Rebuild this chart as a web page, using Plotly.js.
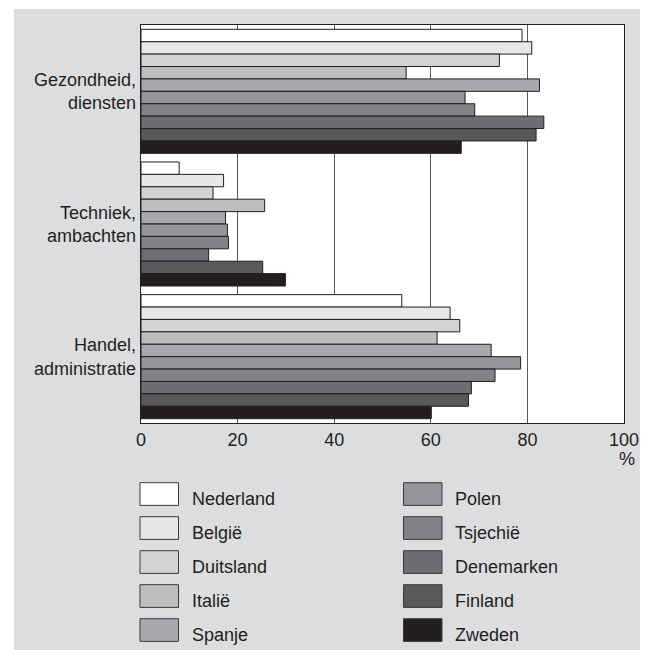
<!DOCTYPE html>
<html>
<head>
<meta charset="utf-8">
<script src="https://cdn.plot.ly/plotly-3.0.1.min.js"></script>
<style>
  html, body { margin: 0; padding: 0; background: #ffffff; }
  #chart { position: absolute; left: 14px; top: 9px; width: 626px; height: 641px; }
</style>
</head>
<body>
<div id="chart"></div>
<script>
// ---- Data ----
const categories = ['Gezondheid,<br>diensten', 'Techniek,<br>ambachten', 'Handel,<br>administratie'];
const countries = ['Nederland', 'België', 'Duitsland', 'Italië', 'Spanje', 'Polen', 'Tsjechië', 'Denemarken', 'Finland', 'Zweden'];
const gezondheid = [78.9, 80.9, 74.2, 54.9, 82.5, 67.1, 69.1, 83.4, 81.8, 66.3];
const techniek   = [7.9, 17.1, 14.9, 25.6, 17.5, 17.9, 18.1, 14.0, 25.2, 29.9];
const handel     = [54.0, 64.0, 66.0, 61.3, 72.5, 78.6, 73.3, 68.4, 67.8, 60.1];
const xTicks = [0, 20, 40, 60, 80, 100];
const unitLabel = '%';

// ---- Styles ----
const colors = ['#ffffff', '#e6e7e8', '#d1d3d4', '#bcbec0', '#a7a9ac', '#939598', '#808285', '#6d6e71', '#58595b', '#231f20'];
const ink = '#231f20';
const font = { family: '"Liberation Sans", Arial, sans-serif', size: 18, color: ink };

const traces = countries.map((c, i) => ({
  type: 'bar',
  orientation: 'h',
  name: c,
  y: categories,
  x: [gezondheid[i], techniek[i], handel[i]],
  marker: { color: colors[i], line: { color: ink, width: 1 } },
  showlegend: false,
  hoverinfo: 'x+name'
}));

// plot area geometry (in px, relative to the div)
const W = 626, H = 641;
const M = { l: 127, r: 16, t: 16, b: 227 };
const pw = W - M.l - M.r, ph = H - M.t - M.b;
// absolute page px -> paper coords
const px2x = ax => (ax - 14 - M.l) / pw;
const px2y = ay => (H - M.b - (ay - 9)) / ph;

const shapes = [];
const annotations = [];
countries.forEach((c, i) => {
  const col = Math.floor(i / 5), row = i % 5;
  const rx0 = col === 0 ? 140 : 403.5;
  const top = 482.7 + row * 34;
  shapes.push({
    type: 'rect', xref: 'paper', yref: 'paper',
    x0: px2x(rx0), x1: px2x(rx0 + 38.5),
    y0: px2y(top + 22.7), y1: px2y(top),
    fillcolor: colors[i], line: { color: '#3a3a3a', width: 1 }
  });
  annotations.push({
    xref: 'paper', yref: 'paper', x: px2x(rx0 + 49.5), y: px2y(top + 16.5),
    xanchor: 'left', yanchor: 'middle', showarrow: false,
    text: c, font: font
  });
});
annotations.push({
  xref: 'paper', yref: 'paper', x: px2x(627), y: px2y(459),
  xanchor: 'center', yanchor: 'middle', showarrow: false,
  text: unitLabel, font: font
});

const layout = {
  width: W, height: H,
  margin: M,
  paper_bgcolor: '#dcdddf',
  plot_bgcolor: '#ffffff',
  font: font,
  barmode: 'group',
  bargap: 0.065,
  bargroupgap: 0,
  showlegend: false,
  xaxis: {
    range: [0, 100],
    tickvals: xTicks,
    showgrid: true, gridcolor: '#58595b', gridwidth: 1,
    zeroline: false,
    showline: true, mirror: true, linecolor: ink, linewidth: 1.3,
    ticks: '', ticklabelstandoff: 0,
    tickfont: font,
    fixedrange: true
  },
  yaxis: {
    type: 'category',
    autorange: 'reversed',
    showgrid: false, zeroline: false,
    showline: true, mirror: true, linecolor: ink, linewidth: 1.3,
    ticks: '', ticklabelstandoff: 0,
    tickfont: font,
    fixedrange: true
  },
  shapes: shapes,
  annotations: annotations
};

Plotly.newPlot('chart', traces, layout, { displayModeBar: false, staticPlot: true });
</script>
</body>
</html>
